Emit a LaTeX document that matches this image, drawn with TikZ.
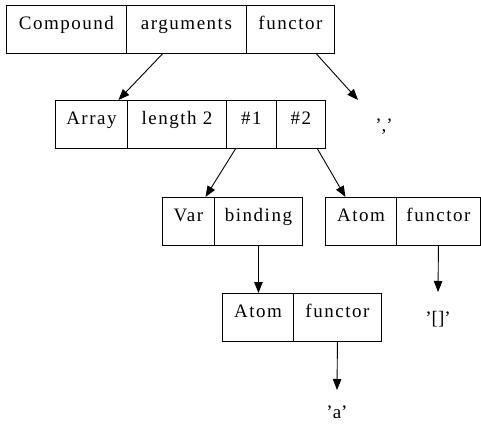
\documentclass[tikz,border=0pt]{standalone}
\usepackage{fontspec}
\setmainfont[LetterSpace=8]{Liberation Serif}
\newfontfamily\lblfont{Liberation Serif}
\usetikzlibrary{arrows.meta,calc}
\begin{document}
\begin{tikzpicture}[x=1pt,y=-1pt,
  fld/.style={draw, line width=0.9pt, anchor=north west, inner xsep=0pt, inner ysep=0pt,
    minimum height=48pt, text height=24pt, text depth=24pt, font=\fontsize{19}{22}\selectfont},
  lbl/.style={anchor=base, inner sep=0pt, font=\lblfont\fontsize{19}{22}\selectfont},
  arr/.style={-{Triangle[length=11pt,width=8.5pt]}, line width=0.9pt}]
\useasboundingbox (0,0) rectangle (481,425);
% row 1
\node[fld, minimum width=120pt] (compound) at (6,5) {Compound};
\node[fld, minimum width=120pt] (args) at (126,5) {arguments};
\node[fld, minimum width=88pt] (fun1) at (246,5) {functor};
% row 2
\node[fld, minimum width=72pt] (array) at (55,100) {Array};
\node[fld, minimum width=99pt] (len) at (127,100) {length 2};
\node[fld, minimum width=50pt] (n1) at (226,100) {\#1};
\node[fld, minimum width=49pt] (n2) at (276,100) {\#2};
\node[lbl] (comma) at (384,131) {\textquoteright,\textquoteright};
% row 3
\node[fld, minimum width=52pt] (var) at (162,197) {Var};
\node[fld, minimum width=88pt] (binding) at (214,197) {binding};
\node[fld, minimum width=71pt] (atomA) at (325,197) {Atom};
\node[fld, minimum width=84pt] (funA) at (396,197) {functor};
% row 4
\node[fld, minimum width=71pt] (atomB) at (222,293) {Atom};
\node[fld, minimum width=88pt] (funB) at (293,293) {functor};
\node[lbl] (nil) at (438,324) {\textquoteright[]\textquoteright};
\node[lbl] (aa) at (337,418) {\textquoteright a\textquoteright};
\coordinate (commaEnd) at (358,100);
% arrows
\draw[arr] ([xshift=-24pt]args.south) -- ([xshift=27pt]array.north);
\draw[arr] ([xshift=26pt]fun1.south) -- (commaEnd);
\draw[arr] ([xshift=-16pt]n1.south) -- ([xshift=17pt]var.north);
\draw[arr] ([xshift=16.5pt]n2.south) -- ([xshift=-15.5pt]atomA.north);
\draw[arr] (binding.south) -- (binding.south |- atomB.north);
\draw[arr] (funA.south) -- ([yshift=32pt]nil.base);
\draw[arr] (funB.south) -- ([yshift=28pt]aa.base);
\end{tikzpicture}
\end{document}
